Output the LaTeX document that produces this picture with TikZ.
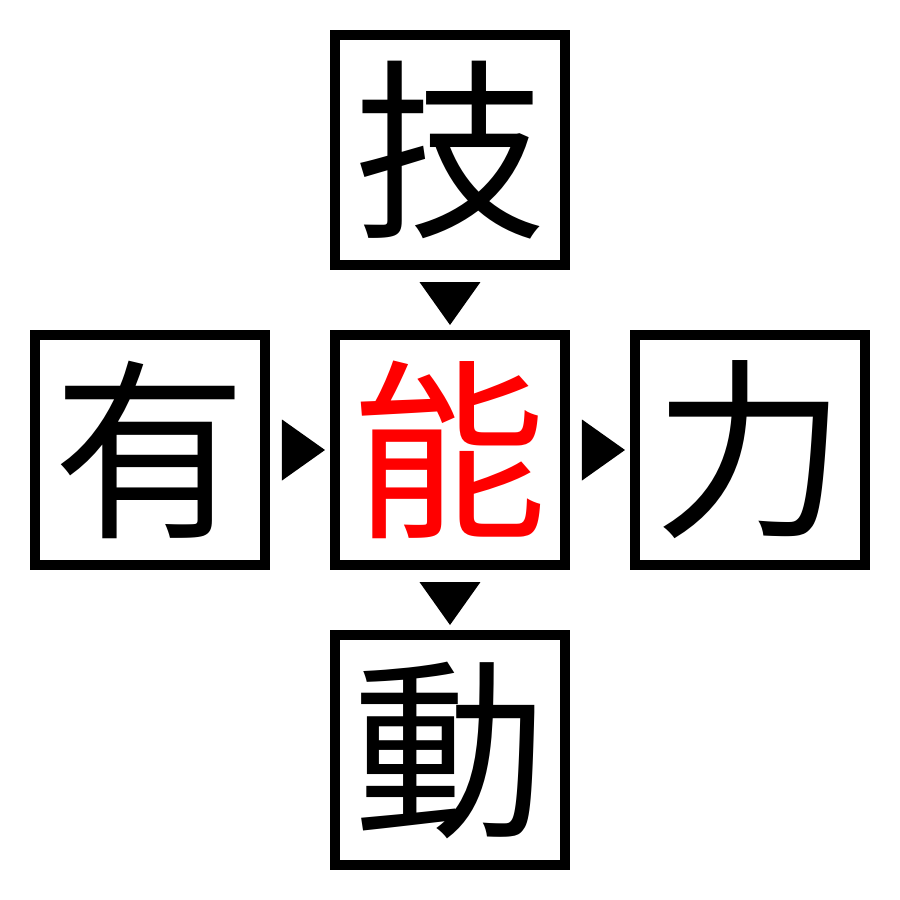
\documentclass[tikz,border=0pt]{standalone}
\usepackage{fontspec}
\newfontfamily\cjk{Noto Sans CJK JP}
\usetikzlibrary{positioning, calc}

\begin{document}
\begin{tikzpicture}[node distance=0.6cm,
    kanji/.style={draw, line width=0.1cm, minimum size=2.3cm, inner sep=0pt,
        font=\cjk\fontsize{55}{55}\selectfont}]

        \useasboundingbox (-4.5,-4.5) rectangle (4.5,4.5);

        \node[kanji, text=red] (noh) at (0,0) {能};
        \node[kanji] (gi) [above = of noh] {技};
        \node[kanji] (yuu) [left = of noh] {有};
        \node[kanji] (ryoku) [right = of noh] {力};
        \node[kanji] (dou) [below = of noh] {動};

        \fill ($(gi.south)+(-0.305,-0.12)$) -- ++(0.61,0) -- ($(gi.south)+(0,-0.55)$) -- cycle;
        \fill ($(noh.south)+(-0.305,-0.12)$) -- ++(0.61,0) -- ($(noh.south)+(0,-0.55)$) -- cycle;
        \fill ($(yuu.east)+(0.12,0.305)$) -- ++(0,-0.61) -- ($(yuu.east)+(0.55,0)$) -- cycle;
        \fill ($(noh.east)+(0.12,0.305)$) -- ++(0,-0.61) -- ($(noh.east)+(0.55,0)$) -- cycle;

    \end{tikzpicture}
\end{document}
